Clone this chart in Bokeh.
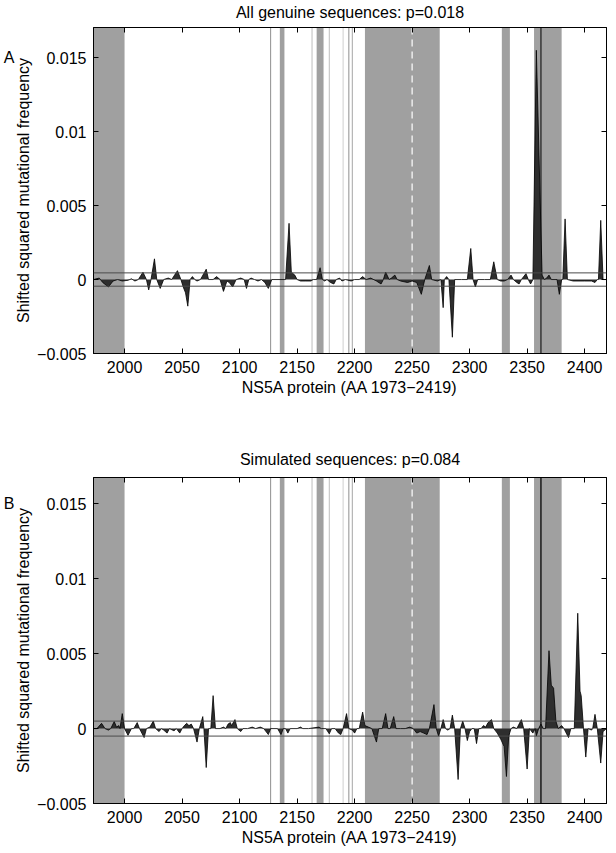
from bokeh.plotting import figure
from bokeh.models import (Range1d, LinearAxis, FixedTicker, CustomJSTickFormatter,
                          BoxAnnotation, Span)
from bokeh.layouts import column
from bokeh.embed import file_html
from bokeh.resources import INLINE

FONT = "Liberation Sans"

# ---------------- data ----------------
x_ticks = [2000, 2050, 2100, 2150, 2200, 2250, 2300, 2350, 2400]
y_ticks = [-0.005, 0.0, 0.005, 0.01, 0.015]

titles = ["All genuine sequences: p=0.018", "Simulated sequences: p=0.084"]
panel_letters = ["A", "B"]
x_label = "NS5A protein (AA 1973\u22122419)"
y_label = "Shifted squared mutational frequency"

# shaded regions (amino-acid positions)
band_starts = [1973, 2135, 2167, 2209, 2328, 2356]
band_ends = [2000, 2139, 2173, 2274, 2335, 2380]
# thin vertical marker lines
thin_lines = [2127, 2163, 2178, 2190, 2195, 2198]
dark_line = 2362
dashed_line = 2250

# significance thresholds
thr_genuine = 0.00045
thr_sim = 0.0005

# genuine sequences: position / value
gen_pos = [1973, 1978, 1981, 1986, 1990, 1994, 1998, 2003, 2006, 2009, 2012, 2016, 2019,
           2021, 2023, 2026, 2028, 2031, 2034, 2038, 2041, 2046, 2049, 2051, 2053, 2055,
           2057, 2059, 2061, 2063, 2066, 2071, 2073, 2077, 2080, 2083, 2086, 2089, 2091,
           2094, 2097, 2101, 2104, 2106, 2108, 2110, 2113, 2116, 2119, 2122, 2125, 2128,
           2140, 2143, 2145, 2148, 2150, 2153, 2157, 2162, 2164, 2167, 2170, 2172, 2174,
           2176, 2179, 2182, 2184, 2187, 2189, 2192, 2197, 2200, 2204, 2207, 2210, 2214,
           2219, 2223, 2225, 2227, 2230, 2232, 2235, 2237, 2240, 2246, 2250, 2254, 2258,
           2261, 2265, 2267, 2272, 2275, 2277, 2278, 2280, 2282, 2285, 2287, 2293, 2298,
           2301, 2303, 2305, 2307, 2313, 2318, 2321, 2324, 2327, 2330, 2333, 2336, 2338,
           2341, 2343, 2345, 2349, 2351, 2353, 2355, 2358, 2363, 2365, 2367, 2369, 2371,
           2376, 2378, 2380, 2381, 2383, 2385, 2390, 2400, 2406, 2409, 2411, 2412, 2414,
           2416, 2419]
gen_val = [0.0, 0.0001, -0.0002, -0.0005, -0.0001, 0.0, -0.0001, -0.00005, 0.00005, -0.0001,
           0.0, 0.0005, 0.0, -0.0007, 0.0, 0.0014, 0.0, -0.0006, 0.0, 0.0001, 0.0, 0.0006,
           0.0, -0.0005, -0.0009, -0.0018, 0.0, 0.0002, 0.0, -0.0001, 0.0, 0.0007, 0.0, 0.0,
           0.0002, 0.0, -0.0008, -0.0001, -0.0002, -0.0005, 0.0, 0.0001, 0.0, -0.0006, 0.0,
           0.0001, 0.0, -0.0001, 0.0, -0.0002, -0.0006, 0.0, 0.0, 0.0038, 0.0005, 0.0003,
           0.0, -0.0001, -0.0001, -0.0001, 0.0, 0.0, 0.0008, 0.0, -0.0001, 0.0, -0.0002,
           -0.0003, 0.0, 0.0001, -0.0001, 0.0, -0.0001, 0.0, 0.0, 0.0002, 0.0, 0.0001,
           -0.0001, -0.0003, 0.0, 0.0005, 0.0, 0.0001, 0.0003, 0.0, -0.0001, -0.0002,
           -0.0001, -0.0002, -0.0010, 0.0, 0.00095, 0.0, -0.0001, 0.0, -0.0019, 0.0, 0.0002,
           0.0, -0.0039, 0.0, 0.0, 0.0, 0.0021, 0.0, -0.0005, 0.0, 0.0, 0.0, 0.0012, 0.0,
           -0.0001, -0.0001, 0.0, 0.0003, 0.0, -0.0002, -0.0003, 0.0, 0.0004, 0.0, -0.0003,
           0.0, 0.0155, 0.0003, 0.0, 0.0001, 0.0003, 0.0, 0.0, -0.0010, 0.0, 0.0, 0.0041,
           0.0, -0.0001, -0.0001, -0.0001, -0.0002, 0.0, 0.0, 0.0040, 0.0, 0.0]

# simulated sequences: position / value
sim_pos = [1973, 1976, 1980, 1983, 1986, 1988, 1991, 1993, 1995, 1996, 1998, 2000, 2003,
           2006, 2008, 2011, 2013, 2017, 2019, 2022, 2025, 2027, 2030, 2032, 2034, 2037,
           2039, 2043, 2045, 2048, 2050, 2052, 2054, 2056, 2058, 2060, 2063, 2065, 2068,
           2069, 2071, 2073, 2075, 2077, 2079, 2083, 2086, 2088, 2090, 2092, 2093, 2096,
           2098, 2101, 2103, 2107, 2111, 2114, 2118, 2121, 2125, 2127, 2133, 2136, 2138,
           2140, 2142, 2144, 2150, 2153, 2155, 2160, 2169, 2171, 2175, 2178, 2180, 2183,
           2186, 2188, 2190, 2193, 2195, 2198, 2200, 2202, 2204, 2207, 2209, 2212, 2215,
           2219, 2221, 2224, 2227, 2229, 2231, 2234, 2236, 2240, 2244, 2248, 2251, 2254,
           2257, 2260, 2263, 2265, 2269, 2271, 2273, 2275, 2277, 2279, 2281, 2283, 2285,
           2287, 2290, 2292, 2294, 2296, 2298, 2300, 2302, 2304, 2306, 2308, 2310, 2312,
           2314, 2316, 2319, 2321, 2324, 2327, 2330, 2332, 2334, 2336, 2338, 2341, 2345,
           2347, 2350, 2352, 2355, 2357, 2358, 2360, 2362, 2364, 2366, 2369, 2371, 2373,
           2375, 2377, 2380, 2382, 2386, 2388, 2391, 2394, 2396, 2397, 2399, 2401, 2403,
           2406, 2407, 2409, 2411, 2414, 2416, 2419]
sim_val = [0.0, 0.0, 0.00035, 0.0, -0.0001, 0.0, 0.00047, 0.0001, 0.0002, 0.0, 0.0010,
           0.0, -0.00045, 0.0, 0.0, 0.0004, 0.0, -0.0006, 0.0, 0.0001, 0.0005, 0.0, -0.0002,
           0.0, -0.0001, -0.0003, 0.0, -0.00015, 0.0, -0.0003, 0.0, 0.0002, 0.00035, 0.0002,
           0.0003, 0.0, -0.0009, 0.0, 0.0008, 0.0, -0.0026, 0.0, 0.0, 0.0022, 0.0, 0.0,
           0.0001, 0.0, 0.0003, 0.0004, 0.0002, 0.0006, 0.0, -0.0002, 0.0, 0.0, 0.0001, 0.0,
           0.0001, 0.0, -0.0004, 0.0, 0.0, -0.0004, 0.0, 0.0, -0.0003, 0.0, 0.0, 0.0001,
           0.0, 0.0, 0.0001, 0.0, 0.0, -0.00035, 0.0, 0.0, -0.0003, -0.0004, 0.0, 0.0010,
           0.0, -0.0001, -0.0003, 0.0, 0.0, 0.0011, 0.0002, 0.0001, 0.0, -0.0009, 0.0, 0.0,
           0.0010, 0.0, 0.0, 0.0008, 0.0, 0.0, 0.0, 0.0001, 0.0, -0.0003, -0.0002, -0.0003,
           -0.0004, 0.0, 0.0016, 0.0, -0.0005, 0.0, 0.0006, 0.0, -0.0001, 0.0, 0.0009, 0.0,
           -0.0034, 0.0, 0.0005, 0.0, -0.0008, -0.0002, 0.0, 0.0, -0.0010, 0.0, 0.0, 0.0002,
           0.0001, 0.0004, 0.0006, 0.0, -0.0003, -0.0007, -0.0012, -0.0032, -0.0005, 0.0,
           0.0001, 0.0, 0.0006, 0.0, -0.0027, 0.0, -0.0003, 0.0, -0.0005, 0.0, 0.0003, 0.0,
           0.0, 0.0052, 0.0029, 0.0027, 0.0005, 0.0, 0.0002, 0.0, -0.0006, 0.0, 0.0, 0.0077,
           0.0025, 0.0022, 0.0, -0.0019, 0.0, -0.0001, 0.0, 0.00095, 0.0, -0.0023, -0.0002,
           0.0]

# ---------------- styles ----------------
BAND_COLOR = "#a0a0a0"
THIN_COLORS = ["#8f8f8f", "#bdbdbd", "#bdbdbd", "#cfcfcf", "#8f8f8f", "#a5a5a5"]
FILL_COLOR = "#2e2e2e"

num_fmt_code = """
const s = parseFloat(tick.toFixed(4)).toString();
return s.replace('-', '\u2212');
"""
blank_fmt_code = "return '';"


def base_axis_style(ax):
    ax.major_tick_in = 5
    ax.major_tick_out = 0
    ax.minor_tick_in = 0
    ax.minor_tick_out = 0
    ax.axis_line_color = "black"
    ax.axis_line_width = 1
    ax.major_tick_line_color = "black"
    ax.major_label_text_font = FONT
    ax.major_label_text_font_size = "16px"
    ax.major_label_text_color = "black"
    ax.axis_label_text_font = FONT
    ax.axis_label_text_font_size = "16px"
    ax.axis_label_text_font_style = "normal"
    ax.axis_label_text_color = "black"


def make_panel(idx, pos, vals, thr, ymax, top_border, bottom_border, title_gap):
    p = figure(frame_width=513, frame_height=326,
               x_range=Range1d(1973, 2419), y_range=Range1d(-0.005, ymax),
               output_backend="svg", toolbar_location=None,
               min_border_left=93, min_border_right=10,
               min_border_top=top_border, min_border_bottom=bottom_border,
               background_fill_color="white", border_fill_color="white",
               outline_line_color="black")
    p.grid.visible = False

    # bottom axis
    xa = p.xaxis[0]
    xa.ticker = FixedTicker(ticks=x_ticks)
    base_axis_style(xa)
    xa.major_label_standoff = 7
    xa.axis_label = x_label
    xa.axis_label_standoff = 3

    # left axis
    ya = p.yaxis[0]
    ya.ticker = FixedTicker(ticks=y_ticks)
    ya.formatter = CustomJSTickFormatter(code=num_fmt_code)
    base_axis_style(ya)
    ya.major_label_standoff = 7
    ya.axis_label = y_label
    ya.axis_label_standoff = 2

    # panel letter, at the level of the 0.015 tick, left of the y label
    la = LinearAxis(ticker=FixedTicker(ticks=[0.015]),
                    formatter=CustomJSTickFormatter(code="return '%s';" % panel_letters[idx]))
    base_axis_style(la)
    la.major_tick_in = 0
    la.axis_line_color = None
    la.major_tick_line_color = None
    la.major_label_standoff = -2
    p.add_layout(la, "left")

    # top axis: inward ticks + title
    ta = LinearAxis(ticker=FixedTicker(ticks=x_ticks),
                    formatter=CustomJSTickFormatter(code=blank_fmt_code))
    base_axis_style(ta)
    ta.major_label_standoff = 0
    ta.axis_label = titles[idx]
    ta.axis_label_standoff = title_gap
    p.add_layout(ta, "above")

    # right axis: inward ticks only
    ra = LinearAxis(ticker=FixedTicker(ticks=y_ticks),
                    formatter=CustomJSTickFormatter(code=blank_fmt_code))
    base_axis_style(ra)
    ra.major_label_standoff = 0
    p.add_layout(ra, "right")

    for s, e in zip(band_starts, band_ends):
        p.add_layout(BoxAnnotation(left=s, right=e, fill_color=BAND_COLOR, fill_alpha=1.0,
                                   line_color=None, level="underlay"))
    for xv, c in zip(thin_lines, THIN_COLORS):
        p.add_layout(Span(location=xv, dimension="height", line_color=c, line_width=1,
                          level="underlay"))
    p.add_layout(Span(location=dashed_line, dimension="height", line_color="white",
                      line_width=1.2, line_dash="7 5", level="underlay"))
    p.add_layout(Span(location=dark_line, dimension="height",
                      line_color="#3c3c3c" if idx == 0 else "#222222",
                      line_width=1.6, level="underlay"))

    p.varea(x=pos, y1=0, y2=vals, fill_color=FILL_COLOR, fill_alpha=1.0)
    p.line(x=pos, y=vals, line_color="black", line_width=0.8)

    for t in (thr, -thr):
        p.add_layout(Span(location=t, dimension="width", line_color="#4a4a4a",
                          line_width=1))
    return p


p1 = make_panel(0, gen_pos, gen_val, thr_genuine, 0.01704, 27, 94, 7)
p2 = make_panel(1, sim_pos, sim_val, thr_sim, 0.01676, 29, 48, 10)

layout = column(p1, p2, spacing=0)
open("out.html", "w").write(file_html(layout, INLINE))
